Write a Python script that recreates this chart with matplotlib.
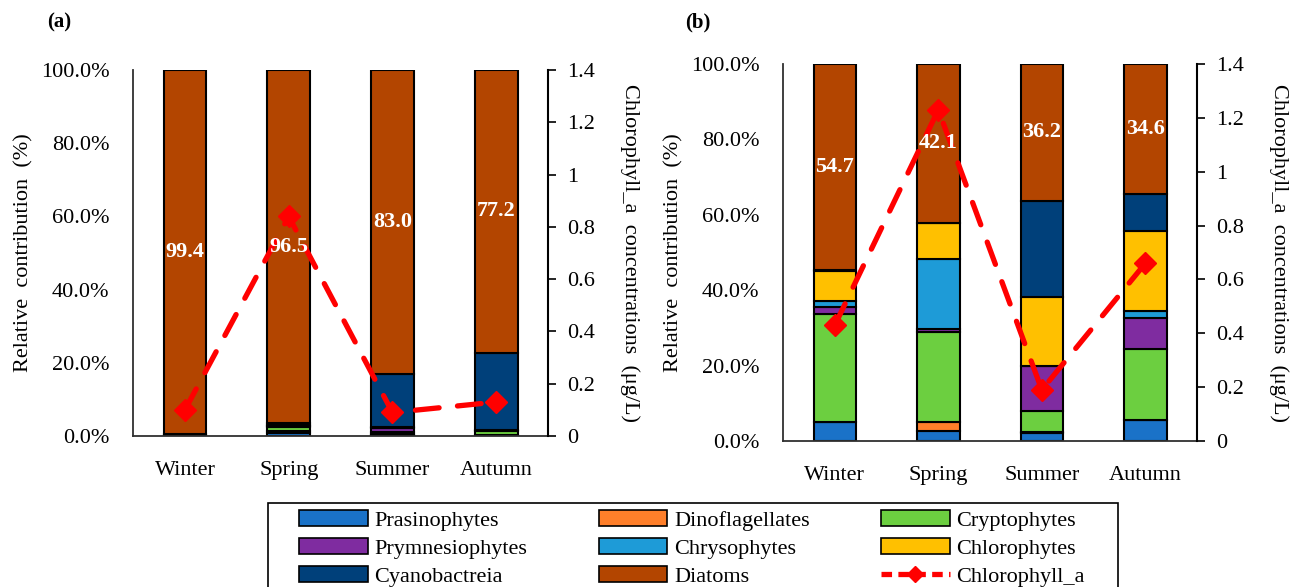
import matplotlib
matplotlib.use("Agg")
import matplotlib.pyplot as plt
from matplotlib.ticker import FuncFormatter
from matplotlib.lines import Line2D
from matplotlib.patches import Patch, Rectangle

plt.rcParams['font.family'] = ['Liberation Serif', 'DejaVu Serif']

seasons = ['Winter', 'Spring', 'Summer', 'Autumn']
groups = ['Prasinophytes', 'Dinoflagellates', 'Cryptophytes', 'Prymnesiophytes',
          'Chrysophytes', 'Chlorophytes', 'Cyanobactreia', 'Diatoms']
colors = ['#1A72C8', '#FF7F2A', '#6CCF40', '#7F2CA0',
          '#1E9BD7', '#FFC000', '#00407A', '#B34500']

# panel (a), percent of total
prasino_a = [0.2, 0.8, 0.4, 0.2]
dino_a = [0.0, 0.6, 0.2, 0.1]
crypto_a = [0.1, 1.0, 0.5, 1.2]
prymn_a = [0.1, 0.3, 1.1, 0.1]
chryso_a = [0.0, 0.2, 0.1, 0.05]
chloro_a = [0.1, 0.2, 0.1, 0.05]
cyano_a = [0.1, 0.4, 14.6, 21.1]
diatom_a = [99.4, 96.5, 83.0, 77.2]
chla_a = [0.10, 0.84, 0.09, 0.13]

# panel (b)
prasino_b = [5.0, 2.7, 2.2, 5.6]
dino_b = [0.1, 2.3, 0.1, 0.1]
crypto_b = [28.6, 23.8, 5.7, 18.8]
prymn_b = [1.8, 0.9, 11.8, 8.1]
chryso_b = [1.7, 18.6, 0.1, 1.8]
chloro_b = [8.0, 9.6, 18.3, 21.3]
cyano_b = [0.1, 0.0, 25.6, 9.7]
diatom_b = [54.7, 42.1, 36.2, 34.6]
chla_b = [0.43, 1.23, 0.19, 0.66]

panel_a = [prasino_a, dino_a, crypto_a, prymn_a, chryso_a, chloro_a, cyano_a, diatom_a]
panel_b = [prasino_b, dino_b, crypto_b, prymn_b, chryso_b, chloro_b, cyano_b, diatom_b]

fig = plt.figure(figsize=(13.11, 5.87), dpi=100)
ax_a = fig.add_axes([0.1015, 0.2572, 0.3166, 0.6235])
ax_b = fig.add_axes([0.5973, 0.2487, 0.3158, 0.6422])

FS = 16


def draw(ax, stacks, chla):
    x = [i + 0.5 for i in range(len(seasons))]
    bottom = [0.0] * len(seasons)
    for vals, c in zip(stacks, colors):
        ax.bar(x, vals, width=0.41, bottom=bottom, color=c,
               edgecolor='black', linewidth=1.5, zorder=2)
        bottom = [b + v for b, v in zip(bottom, vals)]
    ax.set_xlim(0, 4)
    ax.set_ylim(0, 100)
    ax.set_xticks(x)
    ax.set_xticklabels(seasons, fontsize=FS)
    ax.set_yticks([0, 20, 40, 60, 80, 100])
    ax.yaxis.set_major_formatter(FuncFormatter(lambda v, p: f'{v:.1f}%'))
    ax.tick_params(axis='y', length=0, labelsize=FS, pad=17)
    ax.tick_params(axis='x', length=0, pad=18)
    for s in ['top', 'right']:
        ax.spines[s].set_visible(False)
    for s in ['left', 'bottom']:
        ax.spines[s].set_color('#303030')
        ax.spines[s].set_linewidth(1.3)
    ax.set_ylabel('Relative  contribution  (%)', fontsize=FS, labelpad=5)

    ax2 = ax.twinx()
    ax2.plot(x, chla, color='red', linewidth=3.8, linestyle=(0, (4.5, 3.5)),
             dash_capstyle='round', marker='D', markersize=11, zorder=4)
    ax2.set_ylim(0, 1.4)
    ax2.set_yticks([0, 0.2, 0.4, 0.6, 0.8, 1.0, 1.2, 1.4])
    ax2.yaxis.set_major_formatter(FuncFormatter(lambda v, p: f'{v:g}'))
    ax2.tick_params(axis='y', direction='out', length=6, width=1.2,
                    labelsize=FS, pad=8)
    for s in ['top', 'left', 'bottom']:
        ax2.spines[s].set_visible(False)
    ax2.spines['right'].set_linewidth(1.5)
    ax2.set_ylabel('Chlorophyll_a  concentrations  (\u03bcg/L)', fontsize=FS,
                   rotation=270, labelpad=32)
    ax2.set_xlim(0, 4)
    # diatom value labels in the middle of the diatom block, on top of the line
    diat = stacks[-1]
    for xi, d in zip(x, diat):
        ax2.text(xi, 100 - d / 2, f'{d:.1f}', ha='center', va='center',
                 color='white', fontweight='bold', fontsize=FS,
                 transform=ax.transData, zorder=6)
    return ax2


draw(ax_a, panel_a, chla_a)
draw(ax_b, panel_b, chla_b)

fig.text(47 / 1311, 1 - 22 / 587, '(a)', fontsize=15, fontweight='bold', va='center')
fig.text(685 / 1311, 1 - 22 / 587, '(b)', fontsize=15, fontweight='bold', va='center')

handles = [Patch(facecolor=c, edgecolor='black', linewidth=1.2) for c in colors]
labels = list(groups)
handles.append(Line2D([0], [0], color='red', linewidth=3.8, linestyle=(0, (2, 1.2)),
                      marker='D', markersize=8))
labels.append('Chlorophyll_a')
# reorder so the legend fills row by row with 3 columns
order = [0, 3, 6, 1, 4, 7, 2, 5, 8]
leg = fig.legend([handles[i] for i in order], [labels[i] for i in order],
                 loc='upper left', bbox_to_anchor=(299 / 1311, 1 - 510 / 587),
                 ncol=3, fontsize=FS, frameon=False,
                 handlelength=3.1, handleheight=0.7,
                 handletextpad=0.3, columnspacing=3.2, labelspacing=0.34,
                 borderpad=0, borderaxespad=0)
# legend box runs off the bottom edge as in the original figure
fig.patches.append(Rectangle((268 / 1311, -0.01), 850 / 1311, 0.01 + (587 - 503) / 587,
                             transform=fig.transFigure, fill=False,
                             edgecolor='black', linewidth=1.2))

plt.savefig('out.png', dpi=100)
